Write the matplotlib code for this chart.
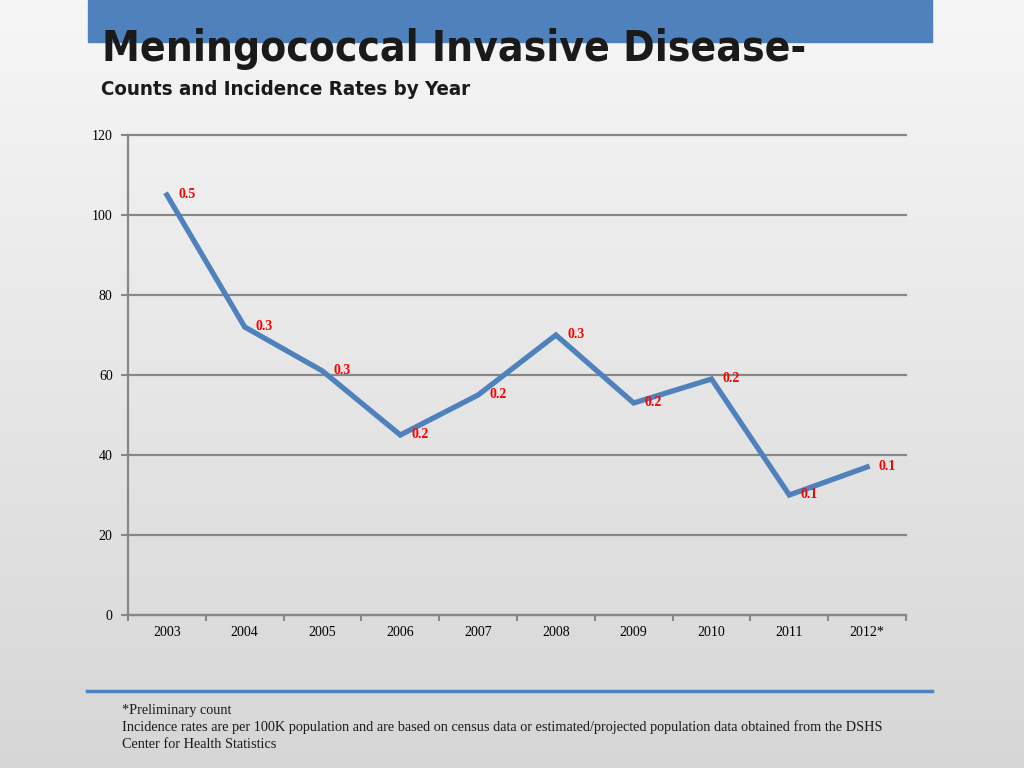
import numpy as np
import matplotlib
matplotlib.use("Agg")
import matplotlib.pyplot as plt
from matplotlib.patches import Rectangle
from matplotlib.lines import Line2D

# Data
years = ["2003", "2004", "2005", "2006", "2007", "2008", "2009", "2010", "2011", "2012*"]
counts = [105, 72, 61, 45, 55, 70, 53, 59, 30, 37]
rates = ["0.5", "0.3", "0.3", "0.2", "0.2", "0.3", "0.2", "0.2", "0.1", "0.1"]
y_ticks = [0, 20, 40, 60, 80, 100, 120]

title = "Meningococcal Invasive Disease-"
subtitle = "Counts and Incidence Rates by Year"
footnote = ("*Preliminary count\n"
            "Incidence rates are per 100K population and are based on census data or "
            "estimated/projected population data obtained from the DSHS\n"
            "Center for Health Statistics")

blue = "#4f81bd"
grid_grey = "#878787"
serif = ["Liberation Serif", "DejaVu Serif"]
narrow = ["DejaVu Sans"]

W, H = 1024, 768
fig = plt.figure(figsize=(W / 100, H / 100), dpi=100)

# slide background: soft grey gradient
bg = fig.add_axes([0, 0, 1, 1], zorder=-10)
grad = np.linspace(0.965, 0.84, 256).reshape(-1, 1)
bg.imshow(np.dstack([grad, grad, grad]), aspect="auto", extent=[0, 1, 0, 1])
bg.set_axis_off()

# top blue bar and footer rule
fig.add_artist(Rectangle((88 / W, 1 - 42 / H), (932 - 88) / W, 42 / H,
                         transform=fig.transFigure, color=blue, zorder=-5))
fig.add_artist(Line2D([87 / W, 932 / W], [1 - 691 / H, 1 - 691 / H],
                      transform=fig.transFigure, color=blue, lw=2.5))

# titles, sized so they span the same width as on the slide
renderer = fig.canvas.get_renderer()
def fitted_text(xpx, ypx, s, target_px, size):
    t = fig.text(xpx / W, 1 - ypx / H, s, family=narrow, weight="bold",
                 stretch="condensed", fontsize=size, color="#1a1a1a",
                 va="baseline", ha="left")
    w = t.get_window_extent(renderer).width
    t.set_fontsize(size * target_px / w)
    return t

fitted_text(102, 61, title, 703, 36)
fitted_text(101, 95, subtitle, 370, 17)

# chart area
ax = fig.add_axes([128 / W, 1 - 615 / H, (906 - 128) / W, (615 - 135) / H])
ax.set_facecolor("none")
x = np.arange(len(years))
ax.plot(x, counts, color=blue, lw=3.8, solid_joinstyle="miter", zorder=3)
for xi, yi, r in zip(x, counts, rates):
    ax.annotate(r, (xi, yi), xytext=(8, 0), textcoords="offset points",
                ha="left", va="center", color="red", fontsize=10,
                weight="bold", family=serif, zorder=4)

ax.set_xlim(-0.5, len(years) - 0.5)
ax.set_ylim(0, 120)
ax.set_yticks(y_ticks)
ax.set_yticklabels([str(v) for v in y_ticks], family=serif, fontsize=10)
ax.set_xticks(x)
ax.set_xticklabels(years, family=serif, fontsize=10)
ax.set_xticks(np.arange(-0.5, len(years), 1.0), minor=True)
ax.tick_params(axis="x", which="major", length=0, pad=8)
ax.tick_params(axis="x", which="minor", length=4, width=1.5, color=grid_grey)
ax.tick_params(axis="y", length=5, width=1.5, color=grid_grey, pad=6)
ax.grid(axis="y", color=grid_grey, lw=1.6)
for gl in ax.get_ygridlines():
    gl.set_clip_on(False)
ax.set_axisbelow(True)
for side in ["top", "right"]:
    ax.spines[side].set_visible(False)
for side in ["left", "bottom"]:
    ax.spines[side].set_color(grid_grey)
    ax.spines[side].set_linewidth(1.6)

fig.text(122 / W, 1 - 704 / H, footnote, family=serif, fontsize=10.3,
         color="#1a1a1a", va="top", ha="left", linespacing=1.33)

fig.savefig("out.png", dpi=100)
